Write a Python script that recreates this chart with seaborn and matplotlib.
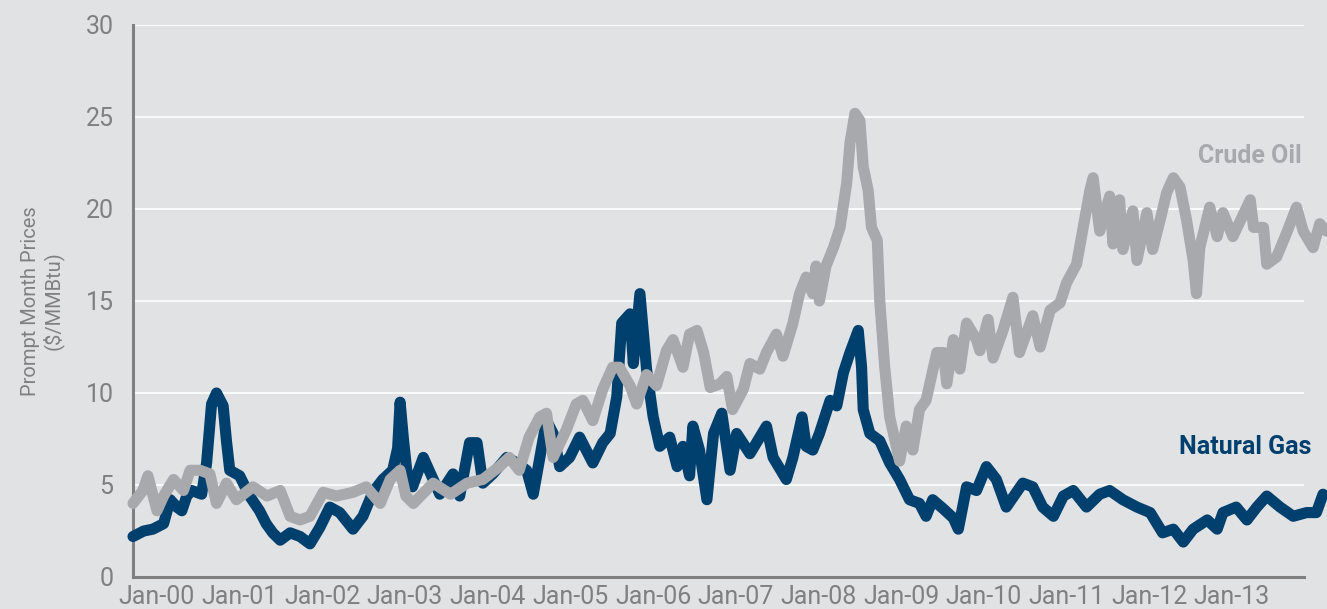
import numpy as np
import matplotlib
matplotlib.use("Agg")
import matplotlib.pyplot as plt
import matplotlib.transforms as mtransforms
import seaborn as sns

# prompt month prices, $/MMBtu (x in decimal years)
gas_year = [1999.82, 1999.95, 2000.06, 2000.19, 2000.27, 2000.35, 2000.41, 2000.47, 2000.53, 2000.65,
            2000.71, 2000.77, 2000.83, 2000.91, 2000.95, 2000.99, 2001.11, 2001.23, 2001.35, 2001.43,
            2001.51, 2001.60, 2001.72, 2001.84, 2001.96, 2002.08, 2002.20, 2002.32, 2002.48, 2002.60,
            2002.72, 2002.84, 2002.96, 2003.02, 2003.05, 2003.09, 2003.13, 2003.20, 2003.33, 2003.45,
            2003.53, 2003.69, 2003.77, 2003.89, 2003.98, 2004.05, 2004.17, 2004.34, 2004.46, 2004.58,
            2004.66, 2004.74, 2004.82, 2004.90, 2004.98, 2005.10, 2005.22, 2005.38, 2005.50, 2005.59,
            2005.67, 2005.73, 2005.83, 2005.87, 2005.95, 2006.03, 2006.11, 2006.19, 2006.31, 2006.40,
            2006.47, 2006.55, 2006.59, 2006.67, 2006.76, 2006.84, 2006.94, 2007.04, 2007.12, 2007.28,
            2007.40, 2007.48, 2007.56, 2007.72, 2007.80, 2007.91, 2007.96, 2008.04, 2008.12, 2008.25,
            2008.33, 2008.41, 2008.49, 2008.59, 2008.63, 2008.65, 2008.73, 2008.85, 2008.97, 2009.09,
            2009.21, 2009.33, 2009.41, 2009.49, 2009.62, 2009.74, 2009.80, 2009.90, 2010.02, 2010.14,
            2010.26, 2010.38, 2010.58, 2010.70, 2010.82, 2010.95, 2011.07, 2011.19, 2011.35, 2011.51,
            2011.63, 2011.79, 2011.96, 2012.12, 2012.27, 2012.40, 2012.52, 2012.64, 2012.81, 2012.93,
            2013.00, 2013.16, 2013.29, 2013.41, 2013.53, 2013.69, 2013.85, 2014.01, 2014.13, 2014.21]
gas_price = [2.2, 2.5, 2.6, 2.9, 4.2, 3.8, 3.6, 4.4, 4.7, 4.5,
             6.2, 9.4, 10.0, 9.3, 7.4, 5.8, 5.5, 4.4, 3.6, 2.9,
             2.4, 2.0, 2.4, 2.2, 1.8, 2.7, 3.8, 3.5, 2.6, 3.3,
             4.6, 5.3, 5.8, 7.0, 9.5, 7.5, 5.8, 4.9, 6.5, 5.3,
             4.5, 5.6, 4.4, 7.3, 7.3, 5.1, 5.6, 6.5, 6.2, 5.8,
             4.5, 6.5, 8.5, 7.8, 6.0, 6.5, 7.6, 6.2, 7.3, 7.8,
             9.8, 13.8, 14.3, 11.6, 15.4, 11.3, 8.7, 7.1, 7.6, 6.0,
             7.1, 5.5, 8.2, 6.9, 4.2, 7.8, 8.9, 5.8, 7.8, 6.7,
             7.6, 8.2, 6.5, 5.3, 6.5, 8.7, 7.1, 6.9, 7.8, 9.6,
             9.3, 11.1, 12.2, 13.4, 11.4, 9.1, 7.8, 7.4, 6.2, 5.3,
             4.2, 4.0, 3.3, 4.2, 3.7, 3.2, 2.6, 4.9, 4.7, 6.0,
             5.3, 3.8, 5.1, 4.9, 3.8, 3.3, 4.4, 4.7, 3.8, 4.5,
             4.7, 4.2, 3.8, 3.5, 2.4, 2.6, 1.9, 2.6, 3.1, 2.6,
             3.5, 3.8, 3.1, 3.8, 4.4, 3.8, 3.3, 3.5, 3.5, 4.5]

oil_year = [1999.82, 1999.94, 2000.00, 2000.11, 2000.19, 2000.31, 2000.43, 2000.51, 2000.63, 2000.75,
            2000.83, 2000.95, 2001.07, 2001.27, 2001.44, 2001.60, 2001.72, 2001.84, 2001.96, 2002.12,
            2002.28, 2002.48, 2002.64, 2002.81, 2002.93, 2003.05, 2003.12, 2003.21, 2003.45, 2003.66,
            2003.86, 2004.05, 2004.25, 2004.37, 2004.49, 2004.61, 2004.74, 2004.82, 2004.90, 2005.06,
            2005.18, 2005.26, 2005.38, 2005.50, 2005.62, 2005.70, 2005.83, 2005.91, 2006.03, 2006.15,
            2006.27, 2006.35, 2006.47, 2006.55, 2006.64, 2006.72, 2006.80, 2006.92, 2007.00, 2007.07,
            2007.20, 2007.28, 2007.40, 2007.48, 2007.60, 2007.68, 2007.80, 2007.88, 2007.96, 2008.04,
            2008.08, 2008.12, 2008.20, 2008.29, 2008.37, 2008.45, 2008.49, 2008.55, 2008.61, 2008.65,
            2008.71, 2008.75, 2008.82, 2008.85, 2008.91, 2008.97, 2009.05, 2009.09, 2009.17, 2009.25,
            2009.33, 2009.41, 2009.54, 2009.62, 2009.66, 2009.74, 2009.82, 2009.90, 2010.02, 2010.06,
            2010.16, 2010.22, 2010.34, 2010.46, 2010.54, 2010.70, 2010.79, 2010.91, 2011.03, 2011.11,
            2011.23, 2011.31, 2011.39, 2011.43, 2011.51, 2011.63, 2011.67, 2011.75, 2011.79, 2011.91,
            2011.96, 2012.08, 2012.15, 2012.24, 2012.32, 2012.40, 2012.48, 2012.56, 2012.64, 2012.68,
            2012.72, 2012.84, 2012.93, 2013.00, 2013.12, 2013.33, 2013.37, 2013.49, 2013.53, 2013.65,
            2013.77, 2013.89, 2013.97, 2014.09, 2014.17, 2014.25]
oil_price = [4.0, 4.7, 5.5, 3.6, 4.4, 5.3, 4.7, 5.8, 5.8, 5.6,
             4.0, 5.1, 4.2, 4.9, 4.4, 4.7, 3.3, 3.1, 3.3, 4.6,
             4.4, 4.6, 4.9, 4.0, 5.3, 5.8, 4.4, 4.0, 5.1, 4.5,
             5.1, 5.3, 6.0, 6.5, 5.8, 7.6, 8.7, 8.9, 6.5, 8.0,
             9.4, 9.6, 8.5, 10.2, 11.4, 11.4, 10.4, 9.4, 11.0, 10.4,
             12.3, 12.9, 11.4, 13.2, 13.4, 12.2, 10.3, 10.5, 10.9, 9.1,
             10.2, 11.6, 11.3, 12.2, 13.2, 12.0, 13.8, 15.4, 16.3, 15.4,
             16.9, 15.0, 16.9, 17.9, 19.0, 21.4, 23.6, 25.2, 24.8, 22.3,
             21.0, 19.0, 18.3, 15.0, 11.4, 8.7, 7.1, 6.3, 8.2, 6.9,
             9.1, 9.6, 12.2, 12.2, 10.5, 12.9, 11.3, 13.8, 12.9, 12.3,
             14.0, 11.9, 13.4, 15.2, 12.2, 14.2, 12.5, 14.5, 14.9, 16.0,
             17.0, 19.0, 21.0, 21.7, 18.8, 20.7, 18.1, 20.5, 17.8, 19.9,
             17.2, 19.8, 17.8, 19.4, 20.9, 21.7, 21.2, 19.4, 17.2, 15.4,
             17.9, 20.1, 18.5, 19.8, 18.5, 20.5, 19.0, 19.0, 17.0, 17.4,
             18.7, 20.1, 18.8, 17.9, 19.2, 18.8]

tick_years = list(range(2000, 2014))
tick_labels = ["Jan-%02d" % (y % 100) for y in tick_years]

BG = "#e1e2e4"
GAS = "#00406e"
OIL = "#a7a9ac"
AXIS = "#808080"

sns.set_style("white")
plt.rcParams["font.family"] = ["Roboto", "DejaVu Sans"]

fig = plt.figure(figsize=(13.27, 6.09), dpi=100, facecolor=BG)
ax = fig.add_axes([133 / 1327, 1 - 577 / 609, (1304 - 133) / 1327, (577 - 25) / 609])
ax.set_facecolor(BG)

sns.lineplot(x=gas_year, y=gas_price, ax=ax, color=GAS, linewidth=8, sort=False,
             solid_capstyle="round", solid_joinstyle="round", clip_on=False, zorder=3)
sns.lineplot(x=oil_year, y=oil_price, ax=ax, color=OIL, linewidth=8, sort=False,
             solid_capstyle="round", solid_joinstyle="round", clip_on=False, zorder=4)

ax.set_xlim(1999.82, 2013.98)
ax.set_ylim(0, 30)
ax.set_yticks(range(0, 31, 5))
ax.set_xticks(tick_years)
ax.set_xticklabels(tick_labels)

ax.grid(axis="y", color="white", linewidth=1.2)
ax.set_axisbelow(True)
for side in ["top", "right"]:
    ax.spines[side].set_visible(False)
for side in ["left", "bottom"]:
    ax.spines[side].set_color(AXIS)
    ax.spines[side].set_linewidth(2.2)

ax.tick_params(axis="y", direction="in", length=11, width=2.2, color=AXIS,
               labelsize=18, labelcolor=AXIS, pad=14)
ax.tick_params(axis="x", direction="in", length=3, width=1, color="#f2f2f2",
               labelsize=18, labelcolor=AXIS, pad=6)
shift = mtransforms.ScaledTranslation(9 / 100, 0, fig.dpi_scale_trans)
for lab in ax.get_xticklabels():
    lab.set_transform(lab.get_transform() + shift)

ax.set_ylabel("Prompt Month Prices\n($/MMBtu)", color=AXIS, fontsize=14.5,
              linespacing=1.1, labelpad=16)

ax.text(2013.95, 22.9, "Crude Oil", color=OIL, fontsize=18, fontweight="bold",
        ha="right", va="center")
ax.text(2014.07, 7.07, "Natural Gas", color=GAS, fontsize=18, fontweight="bold",
        ha="right", va="center", clip_on=False)

fig.savefig("out.png", dpi=100, facecolor=BG)
